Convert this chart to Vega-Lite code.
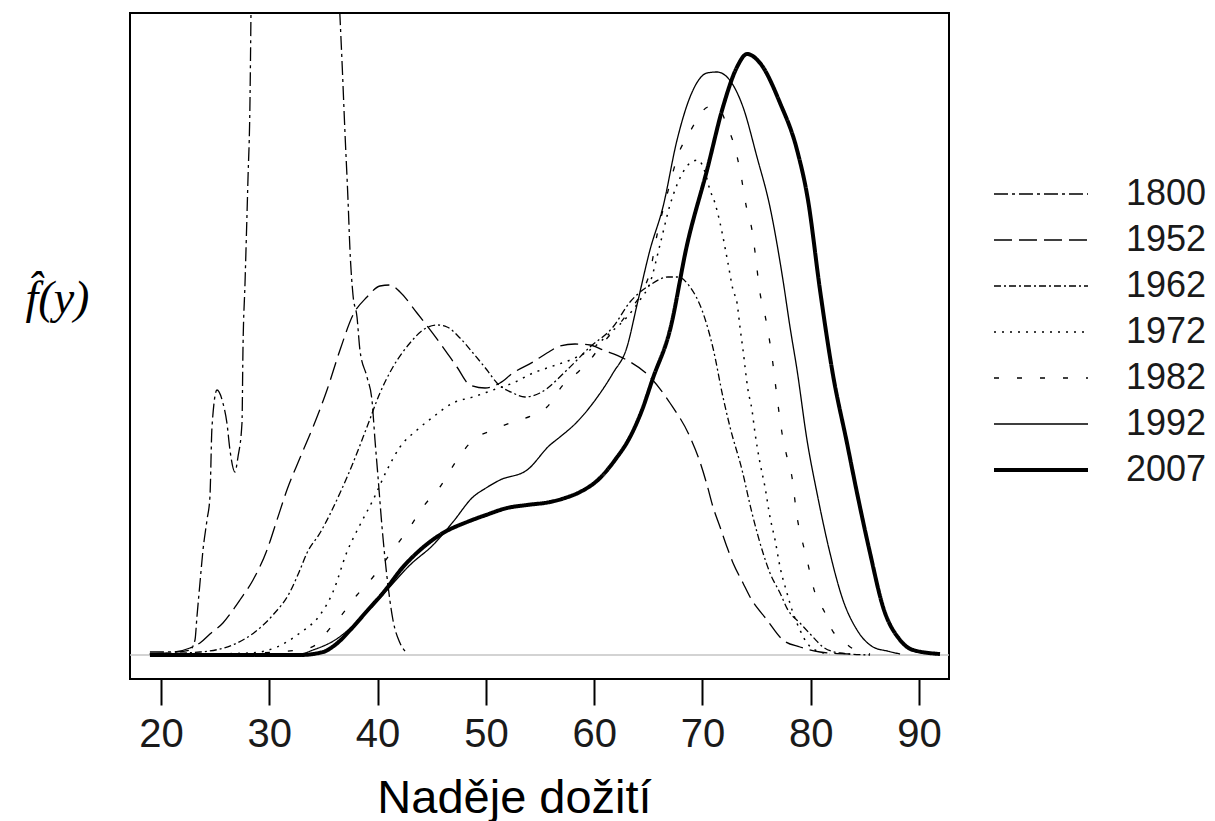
{
"$schema": "https://vega.github.io/schema/vega-lite/v6.json",
"width": 819, "height": 666,
"autosize": {"type": "none"},
"padding": {"left": 130, "top": 13, "right": 266, "bottom": 142},
"background": "white",
"config": {"view": {"stroke": "black", "strokeWidth": 2}, "font": "Liberation Sans"},
"layer": [
{"data": {"values": [{"density": 0}]},
 "mark": {"type": "rule", "color": "#c4c4c4", "strokeWidth": 1.5},
 "encoding": {"y": {"field": "density", "type": "quantitative", "scale": {"domain": [-0.0024, 0.0642], "nice": false, "zero": false}}}},
{"data": {"values": [
{"year":"1800","age":18.98,"density":0.0003},{"year":"1800","age":21.29,"density":0.0003},{"year":"1800","age":22.68,"density":0.0005},{"year":"1800","age":23.14,"density":0.0015},{"year":"1800","age":23.32,"density":0.0038},{"year":"1800","age":23.6,"density":0.0072},{"year":"1800","age":23.88,"density":0.0105},{"year":"1800","age":24.25,"density":0.0135},{"year":"1800","age":24.52,"density":0.0158},{"year":"1800","age":24.71,"density":0.0228},{"year":"1800","age":25.17,"density":0.0265},{"year":"1800","age":25.72,"density":0.0252},{"year":"1800","age":26.09,"density":0.0232},{"year":"1800","age":26.37,"density":0.0205},{"year":"1800","age":26.83,"density":0.0183},{"year":"1800","age":27.11,"density":0.0198},{"year":"1800","age":27.48,"density":0.0232},{"year":"1800","age":27.57,"density":0.0305},{"year":"1800","age":27.76,"density":0.0372},{"year":"1800","age":28.03,"density":0.0475},{"year":"1800","age":28.22,"density":0.0555},{"year":"1800","age":28.31,"density":0.0642},{"year":"1800","age":28.5,"density":0.0855},{"year":"1800","age":29.14,"density":0.1455},{"year":"1800","age":30.5,"density":0.2155},{"year":"1800","age":32.5,"density":0.2555},{"year":"1800","age":34.5,"density":0.2055},{"year":"1800","age":35.88,"density":0.0805},{"year":"1800","age":36.53,"density":0.0638},{"year":"1800","age":36.71,"density":0.0595},{"year":"1800","age":36.99,"density":0.0522},{"year":"1800","age":37.27,"density":0.0455},{"year":"1800","age":37.45,"density":0.0405},{"year":"1800","age":37.73,"density":0.036},{"year":"1800","age":38.1,"density":0.0338},{"year":"1800","age":38.37,"density":0.0305},{"year":"1800","age":39.02,"density":0.0278},{"year":"1800","age":39.48,"density":0.0255},{"year":"1800","age":39.76,"density":0.0215},{"year":"1800","age":40.04,"density":0.0178},{"year":"1800","age":40.41,"density":0.0128},{"year":"1800","age":40.87,"density":0.0078},{"year":"1800","age":41.42,"density":0.0035},{"year":"1800","age":42.07,"density":0.0012},{"year":"1800","age":42.71,"density":0.0002},
{"year":"1952","age":18.98,"density":0.0001},{"year":"1952","age":21.29,"density":0.0003},{"year":"1952","age":22.68,"density":0.0007},{"year":"1952","age":23.6,"density":0.0012},{"year":"1952","age":24.52,"density":0.0021},{"year":"1952","age":25.72,"density":0.0032},{"year":"1952","age":26.65,"density":0.0045},{"year":"1952","age":27.29,"density":0.0055},{"year":"1952","age":28.5,"density":0.0075},{"year":"1952","age":29.79,"density":0.0105},{"year":"1952","age":30.71,"density":0.0135},{"year":"1952","age":31.63,"density":0.0165},{"year":"1952","age":32.83,"density":0.0197},{"year":"1952","age":34.04,"density":0.0228},{"year":"1952","age":35.33,"density":0.0265},{"year":"1952","age":36.53,"density":0.0305},{"year":"1952","age":37.73,"density":0.034},{"year":"1952","age":39.02,"density":0.0358},{"year":"1952","age":40.22,"density":0.0369},{"year":"1952","age":41.15,"density":0.037},{"year":"1952","age":42.07,"density":0.0363},{"year":"1952","age":43.64,"density":0.0342},{"year":"1952","age":45.76,"density":0.0312},{"year":"1952","age":47.33,"density":0.0288},{"year":"1952","age":48.53,"density":0.027},{"year":"1952","age":49.92,"density":0.0267},{"year":"1952","age":51.3,"density":0.0272},{"year":"1952","age":52.5,"density":0.0282},{"year":"1952","age":54.35,"density":0.0293},{"year":"1952","age":55.64,"density":0.0302},{"year":"1952","age":56.84,"density":0.0309},{"year":"1952","age":58.23,"density":0.0311},{"year":"1952","age":59.61,"density":0.031},{"year":"1952","age":60.81,"density":0.0305},{"year":"1952","age":62.66,"density":0.0297},{"year":"1952","age":65.15,"density":0.0278},{"year":"1952","age":67.0,"density":0.0252},{"year":"1952","age":68.85,"density":0.0218},{"year":"1952","age":69.77,"density":0.0193},{"year":"1952","age":70.42,"density":0.017},{"year":"1952","age":70.97,"density":0.0148},{"year":"1952","age":71.62,"density":0.0128},{"year":"1952","age":72.26,"density":0.0108},{"year":"1952","age":72.82,"density":0.0092},{"year":"1952","age":73.74,"density":0.0072},{"year":"1952","age":74.39,"density":0.0058},{"year":"1952","age":75.96,"density":0.0035},{"year":"1952","age":77.43,"density":0.0015},{"year":"1952","age":79.0,"density":0.0008},{"year":"1952","age":80.85,"density":0.0003},{"year":"1952","age":83.62,"density":0.0001},
{"year":"1962","age":18.98,"density":0.0001},{"year":"1962","age":23.6,"density":0.0003},{"year":"1962","age":27.02,"density":0.0012},{"year":"1962","age":28.68,"density":0.0023},{"year":"1962","age":30.34,"density":0.004},{"year":"1962","age":31.91,"density":0.0063},{"year":"1962","age":32.83,"density":0.0085},{"year":"1962","age":33.48,"density":0.0102},{"year":"1962","age":34.68,"density":0.0122},{"year":"1962","age":36.53,"density":0.0162},{"year":"1962","age":37.73,"density":0.0192},{"year":"1962","age":39.02,"density":0.0228},{"year":"1962","age":40.22,"density":0.0262},{"year":"1962","age":41.42,"density":0.0288},{"year":"1962","age":42.99,"density":0.0312},{"year":"1962","age":44.19,"density":0.0325},{"year":"1962","age":45.49,"density":0.033},{"year":"1962","age":46.41,"density":0.0328},{"year":"1962","age":47.61,"density":0.0317},{"year":"1962","age":48.81,"density":0.0302},{"year":"1962","age":50.1,"density":0.0285},{"year":"1962","age":51.02,"density":0.0272},{"year":"1962","age":52.5,"density":0.0262},{"year":"1962","age":53.61,"density":0.0258},{"year":"1962","age":54.99,"density":0.0262},{"year":"1962","age":57.49,"density":0.0285},{"year":"1962","age":59.61,"density":0.0308},{"year":"1962","age":61.74,"density":0.0328},{"year":"1962","age":63.31,"density":0.0353},{"year":"1962","age":65.15,"density":0.037},{"year":"1962","age":66.81,"density":0.0378},{"year":"1962","age":67.74,"density":0.0378},{"year":"1962","age":68.85,"density":0.0368},{"year":"1962","age":69.95,"density":0.0345},{"year":"1962","age":70.97,"density":0.0307},{"year":"1962","age":71.89,"density":0.0258},{"year":"1962","age":72.54,"density":0.0228},{"year":"1962","age":73.65,"density":0.0185},{"year":"1962","age":74.57,"density":0.0142},{"year":"1962","age":75.59,"density":0.0102},{"year":"1962","age":76.23,"density":0.0082},{"year":"1962","age":77.16,"density":0.0062},{"year":"1962","age":77.89,"density":0.0045},{"year":"1962","age":79.0,"density":0.0032},{"year":"1962","age":80.2,"density":0.0018},{"year":"1962","age":81.13,"density":0.0008},{"year":"1962","age":82.7,"density":0.0002},{"year":"1962","age":85.47,"density":0.0},
{"year":"1972","age":18.98,"density":0.0001},{"year":"1972","age":23.6,"density":0.0001},{"year":"1972","age":28.22,"density":0.0002},{"year":"1972","age":30.71,"density":0.0008},{"year":"1972","age":32.83,"density":0.0022},{"year":"1972","age":34.68,"density":0.004},{"year":"1972","age":35.88,"density":0.0063},{"year":"1972","age":37.17,"density":0.0103},{"year":"1972","age":38.37,"density":0.013},{"year":"1972","age":39.58,"density":0.0155},{"year":"1972","age":40.87,"density":0.0185},{"year":"1972","age":42.07,"density":0.0208},{"year":"1972","age":43.64,"density":0.0225},{"year":"1972","age":45.12,"density":0.0238},{"year":"1972","age":46.96,"density":0.0252},{"year":"1972","age":48.81,"density":0.0258},{"year":"1972","age":50.66,"density":0.0265},{"year":"1972","age":52.5,"density":0.0272},{"year":"1972","age":54.35,"density":0.0282},{"year":"1972","age":55.92,"density":0.0288},{"year":"1972","age":57.77,"density":0.0295},{"year":"1972","age":59.61,"density":0.0305},{"year":"1972","age":61.46,"density":0.0322},{"year":"1972","age":63.03,"density":0.0338},{"year":"1972","age":64.23,"density":0.0355},{"year":"1972","age":65.15,"density":0.0372},{"year":"1972","age":66.07,"density":0.041},{"year":"1972","age":67.0,"density":0.045},{"year":"1972","age":67.92,"density":0.0477},{"year":"1972","age":68.85,"density":0.0492},{"year":"1972","age":69.59,"density":0.0495},{"year":"1972","age":70.23,"density":0.0483},{"year":"1972","age":70.69,"density":0.0465},{"year":"1972","age":71.15,"density":0.0452},{"year":"1972","age":71.62,"density":0.0432},{"year":"1972","age":72.35,"density":0.0392},{"year":"1972","age":72.82,"density":0.0365},{"year":"1972","age":73.19,"density":0.0352},{"year":"1972","age":73.46,"density":0.0328},{"year":"1972","age":73.74,"density":0.0305},{"year":"1972","age":74.2,"density":0.0265},{"year":"1972","age":74.57,"density":0.0245},{"year":"1972","age":74.85,"density":0.0222},{"year":"1972","age":75.31,"density":0.0192},{"year":"1972","age":75.77,"density":0.0168},{"year":"1972","age":76.23,"density":0.0138},{"year":"1972","age":76.7,"density":0.0115},{"year":"1972","age":77.16,"density":0.0088},{"year":"1972","age":77.8,"density":0.0062},{"year":"1972","age":78.36,"density":0.0042},{"year":"1972","age":79.0,"density":0.0025},{"year":"1972","age":79.65,"density":0.0012},{"year":"1972","age":80.39,"density":0.0005},{"year":"1972","age":81.77,"density":0.0001},
{"year":"1982","age":18.98,"density":0.0001},{"year":"1982","age":25.45,"density":0.0001},{"year":"1982","age":32.83,"density":0.0005},{"year":"1982","age":34.68,"density":0.0013},{"year":"1982","age":35.33,"density":0.0023},{"year":"1982","age":36.53,"density":0.0038},{"year":"1982","age":38.1,"density":0.006},{"year":"1982","age":39.58,"density":0.0078},{"year":"1982","age":41.42,"density":0.0105},{"year":"1982","age":42.99,"density":0.0128},{"year":"1982","age":44.19,"density":0.0148},{"year":"1982","age":45.76,"density":0.0168},{"year":"1982","age":47.33,"density":0.0195},{"year":"1982","age":48.81,"density":0.0215},{"year":"1982","age":50.66,"density":0.0225},{"year":"1982","age":52.23,"density":0.0232},{"year":"1982","age":54.35,"density":0.024},{"year":"1982","age":55.64,"density":0.0248},{"year":"1982","age":57.12,"density":0.027},{"year":"1982","age":58.41,"density":0.0282},{"year":"1982","age":59.61,"density":0.0295},{"year":"1982","age":60.81,"density":0.0312},{"year":"1982","age":62.11,"density":0.0328},{"year":"1982","age":63.31,"density":0.0345},{"year":"1982","age":64.51,"density":0.0365},{"year":"1982","age":65.15,"density":0.0383},{"year":"1982","age":65.8,"density":0.042},{"year":"1982","age":66.72,"density":0.046},{"year":"1982","age":67.92,"density":0.0505},{"year":"1982","age":68.57,"density":0.0518},{"year":"1982","age":69.49,"density":0.0535},{"year":"1982","age":70.51,"density":0.0548},{"year":"1982","age":71.43,"density":0.0547},{"year":"1982","age":72.35,"density":0.0527},{"year":"1982","age":73.0,"density":0.0507},{"year":"1982","age":73.46,"density":0.0485},{"year":"1982","age":74.11,"density":0.0445},{"year":"1982","age":74.57,"density":0.0425},{"year":"1982","age":74.85,"density":0.0403},{"year":"1982","age":75.31,"density":0.0362},{"year":"1982","age":75.77,"density":0.034},{"year":"1982","age":76.42,"density":0.0298},{"year":"1982","age":76.88,"density":0.0258},{"year":"1982","age":77.34,"density":0.0222},{"year":"1982","age":77.8,"density":0.0198},{"year":"1982","age":78.26,"density":0.0178},{"year":"1982","age":78.73,"density":0.0138},{"year":"1982","age":79.19,"density":0.0115},{"year":"1982","age":79.65,"density":0.0095},{"year":"1982","age":80.39,"density":0.0062},{"year":"1982","age":81.31,"density":0.0042},{"year":"1982","age":81.96,"density":0.0025},{"year":"1982","age":82.88,"density":0.0015},{"year":"1982","age":84.08,"density":0.0005},{"year":"1982","age":85.47,"density":0.0001},
{"year":"1992","age":18.98,"density":0.0001},{"year":"1992","age":32.83,"density":0.0001},{"year":"1992","age":34.04,"density":0.0005},{"year":"1992","age":36.07,"density":0.0015},{"year":"1992","age":38.1,"density":0.0033},{"year":"1992","age":40.87,"density":0.0065},{"year":"1992","age":42.99,"density":0.009},{"year":"1992","age":45.12,"density":0.011},{"year":"1992","age":46.96,"density":0.0133},{"year":"1992","age":48.81,"density":0.0158},{"year":"1992","age":50.01,"density":0.0167},{"year":"1992","age":51.3,"density":0.0175},{"year":"1992","age":53.8,"density":0.0185},{"year":"1992","age":55.92,"density":0.021},{"year":"1992","age":56.84,"density":0.0218},{"year":"1992","age":58.41,"density":0.0233},{"year":"1992","age":59.89,"density":0.0252},{"year":"1992","age":61.74,"density":0.0282},{"year":"1992","age":63.03,"density":0.0308},{"year":"1992","age":63.95,"density":0.035},{"year":"1992","age":65.15,"density":0.0405},{"year":"1992","age":66.35,"density":0.0448},{"year":"1992","age":67.65,"density":0.0515},{"year":"1992","age":68.85,"density":0.0558},{"year":"1992","age":70.42,"density":0.0582},{"year":"1992","age":71.34,"density":0.0583},{"year":"1992","age":72.26,"density":0.0578},{"year":"1992","age":73.74,"density":0.0548},{"year":"1992","age":75.03,"density":0.0498},{"year":"1992","age":76.23,"density":0.0448},{"year":"1992","age":77.43,"density":0.0375},{"year":"1992","age":78.08,"density":0.0328},{"year":"1992","age":78.73,"density":0.0285},{"year":"1992","age":79.65,"density":0.0215},{"year":"1992","age":80.57,"density":0.0162},{"year":"1992","age":81.77,"density":0.0102},{"year":"1992","age":82.97,"density":0.0055},{"year":"1992","age":84.27,"density":0.0025},{"year":"1992","age":85.75,"density":0.0008},{"year":"1992","age":87.04,"density":0.0004},{"year":"1992","age":88.24,"density":0.0001},
{"year":"2007","age":18.98,"density":0.0},{"year":"2007","age":32.83,"density":0.0},{"year":"2007","age":34.96,"density":0.0003},{"year":"2007","age":36.07,"density":0.001},{"year":"2007","age":37.73,"density":0.0028},{"year":"2007","age":39.02,"density":0.0044},{"year":"2007","age":40.5,"density":0.0062},{"year":"2007","age":42.35,"density":0.0088},{"year":"2007","age":43.92,"density":0.0105},{"year":"2007","age":46.04,"density":0.0122},{"year":"2007","age":48.26,"density":0.0133},{"year":"2007","age":50.01,"density":0.014},{"year":"2007","age":51.95,"density":0.0147},{"year":"2007","age":53.8,"density":0.015},{"year":"2007","age":55.92,"density":0.0153},{"year":"2007","age":57.3,"density":0.0157},{"year":"2007","age":58.69,"density":0.0163},{"year":"2007","age":60.54,"density":0.0177},{"year":"2007","age":61.92,"density":0.0195},{"year":"2007","age":63.31,"density":0.0218},{"year":"2007","age":64.42,"density":0.0245},{"year":"2007","age":65.43,"density":0.0277},{"year":"2007","age":67.0,"density":0.0325},{"year":"2007","age":68.57,"density":0.041},{"year":"2007","age":70.42,"density":0.0485},{"year":"2007","age":71.89,"density":0.0548},{"year":"2007","age":73.19,"density":0.0588},{"year":"2007","age":74.11,"density":0.0601},{"year":"2007","age":75.31,"density":0.0592},{"year":"2007","age":77.16,"density":0.0552},{"year":"2007","age":78.73,"density":0.0505},{"year":"2007","age":79.74,"density":0.0455},{"year":"2007","age":80.85,"density":0.0365},{"year":"2007","age":82.05,"density":0.028},{"year":"2007","age":83.34,"density":0.0212},{"year":"2007","age":84.27,"density":0.0162},{"year":"2007","age":85.47,"density":0.0102},{"year":"2007","age":86.67,"density":0.0048},{"year":"2007","age":88.24,"density":0.0015},{"year":"2007","age":89.44,"density":0.0005},{"year":"2007","age":91.93,"density":0.0001}
]},
 "mark": {"type": "line", "clip": true, "interpolate": "monotone", "color": "black", "strokeCap": "butt"},
 "encoding": {
  "x": {"field": "age", "type": "quantitative",
        "scale": {"domain": [17.14, 92.76], "nice": false, "zero": false},
        "axis": {"domain": false, "grid": false, "values": [20,30,40,50,60,70,80,90], "tickSize": 26, "tickWidth": 2, "tickColor": "black",
                 "labelFontSize": 40, "labelFont": "Liberation Sans", "labelColor": "#1a1a1a", "labelPadding": 9,
                 "title": "Naděje dožití", "titleFontSize": 47, "titleFont": "Liberation Sans", "titleFontWeight": "normal", "titleColor": "black",
                 "titleX": 384, "titleY": 133, "titleAlign": "center", "titleBaseline": "alphabetic"}},
  "y": {"field": "density", "type": "quantitative",
        "scale": {"domain": [-0.0024, 0.0642], "nice": false, "zero": false},
        "axis": {"domain": false, "grid": false, "ticks": false, "labels": false,
                 "title": "f̂(y)", "titleAngle": 0, "titleX": -73, "titleY": 285, "titleAlign": "center", "titleBaseline": "middle",
                 "titleFontSize": 46, "titleFont": "Liberation Serif", "titleFontStyle": "italic", "titleFontWeight": "normal", "titleColor": "black"}},
  "strokeDash": {"field": "year", "type": "ordinal",
        "scale": {"domain": ["1800","1952","1962","1972","1982","1992","2007"], "range": [[14,4,3,4],[18,7],[7,3,2,3],[2,6],[5,18],[1,0],[1,0]]},
        "legend": {"orient": "none", "legendX": 893, "legendY": 163, "title": null, "symbolType": "M-9.4,0H9.4", "symbolSize": 100,
                   "labelFontSize": 36, "labelFont": "Liberation Sans", "labelColor": "#1a1a1a", "labelOffset": 67, "rowPadding": 10, "padding": 0,
                   "symbolStrokeColor": "black", "labelLimit": 300}},
  "strokeWidth": {"field": "year", "type": "ordinal",
        "scale": {"type": "ordinal", "domain": ["1800","1952","1962","1972","1982","1992","2007"], "range": [1.3,1.3,1.3,1.5,1.3,1.3,4]},
        "legend": {"orient": "none", "legendX": 893, "legendY": 163, "title": null, "symbolType": "M-9.4,0H9.4", "symbolSize": 100,
                   "labelFontSize": 36, "labelFont": "Liberation Sans", "labelColor": "#1a1a1a", "labelOffset": 67, "rowPadding": 10, "padding": 0,
                   "symbolStrokeColor": "black", "labelLimit": 300}}
 }}
]
}
